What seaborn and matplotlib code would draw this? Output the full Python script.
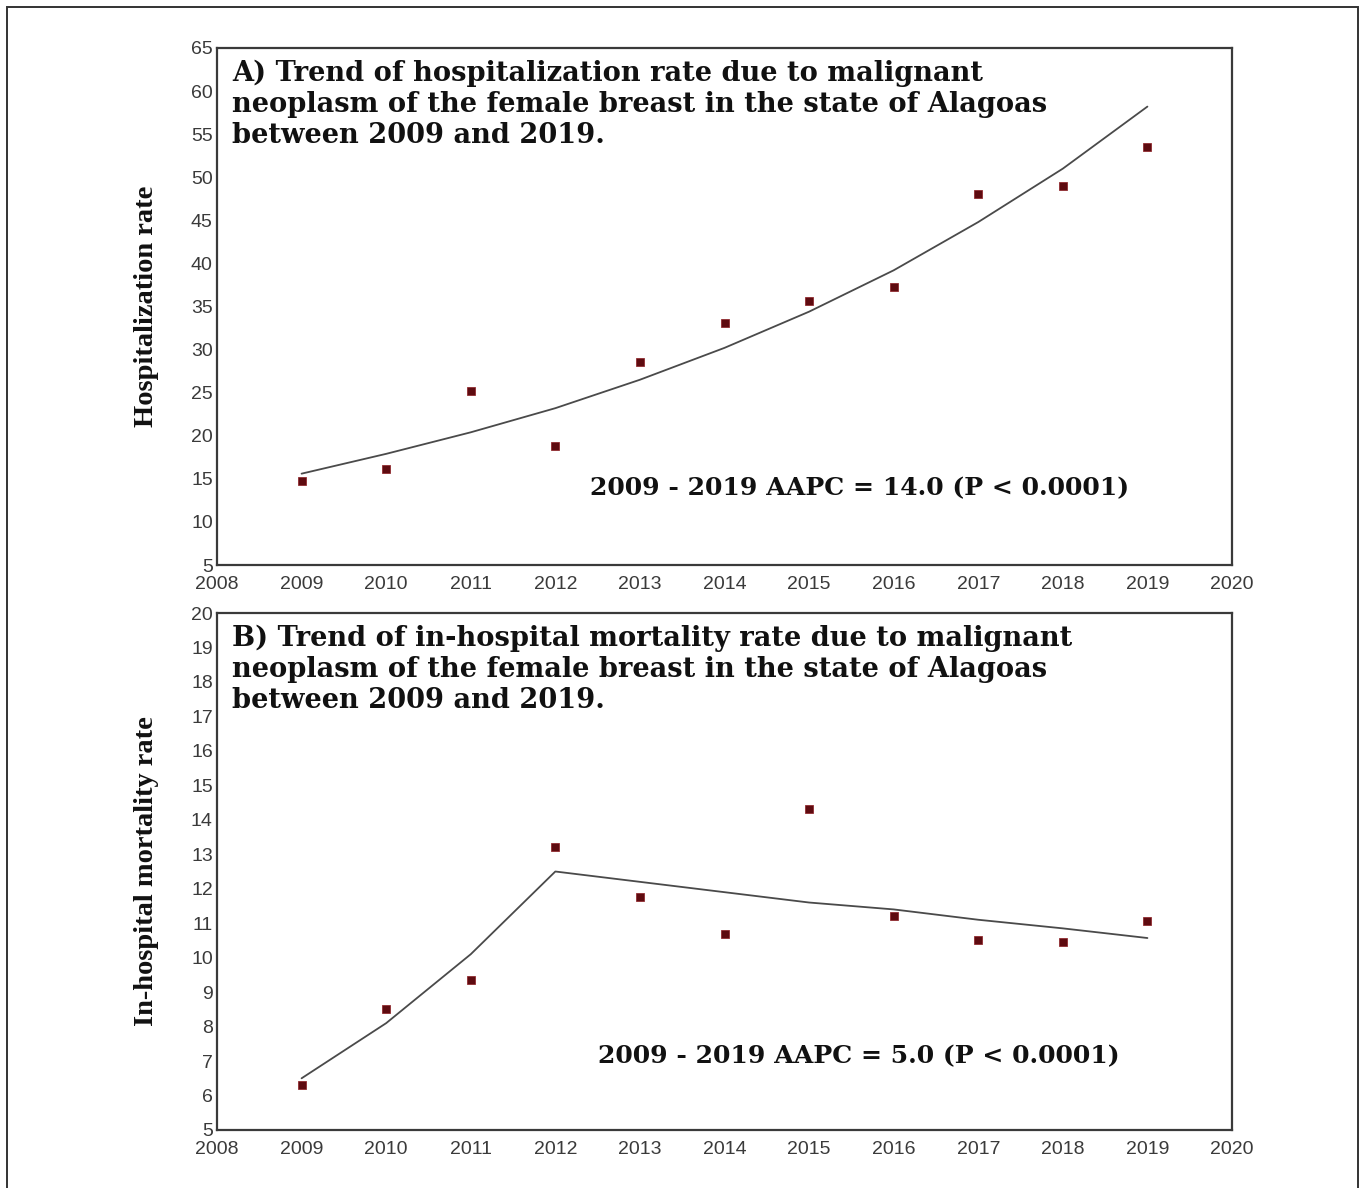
import matplotlib
matplotlib.use("Agg")
import matplotlib.pyplot as plt
import seaborn as sns
import pandas as pd
from matplotlib.patches import Rectangle

# Values
years = [2009, 2010, 2011, 2012, 2013, 2014, 2015, 2016, 2017, 2018, 2019]

hosp_rate = [14.8, 16.1, 25.2, 18.8, 28.6, 33.1, 35.6, 37.3, 48.1, 49.0, 53.5]
hosp_trend = [15.6, 17.9, 20.4, 23.2, 26.5, 30.2, 34.4, 39.2, 44.8, 51.0, 58.2]

mort_rate = [6.3, 8.5, 9.35, 13.2, 11.75, 10.7, 14.3, 11.2, 10.5, 10.45, 11.05]
mort_trend = [6.5, 8.1, 10.1, 12.5, 12.2, 11.9, 11.6, 11.4, 11.1, 10.85, 10.57]

x_ticks = list(range(2008, 2021))
hosp_yticks = list(range(5, 66, 5))
mort_yticks = list(range(5, 21))

title_a = ("A) Trend of hospitalization rate due to malignant\n"
           "neoplasm of the female breast in the state of Alagoas\n"
           "between 2009 and 2019.")
title_b = ("B) Trend of in-hospital mortality rate due to malignant\n"
           "neoplasm of the female breast in the state of Alagoas\n"
           "between 2009 and 2019.")
aapc_a = "2009 - 2019 AAPC = 14.0 (P < 0.0001)"
aapc_b = "2009 - 2019 AAPC = 5.0 (P < 0.0001)"

df_a = pd.DataFrame({"year": years, "rate": hosp_rate, "trend": hosp_trend})
df_b = pd.DataFrame({"year": years, "rate": mort_rate, "trend": mort_trend})

sns.set_theme(style="white")
plt.rcParams['font.family'] = ['Liberation Sans', 'DejaVu Sans']

fig = plt.figure(figsize=(13.7, 11.88), dpi=100)
W, H = 1370, 1188

# outer frame of the figure
fig.patches.append(Rectangle((7 / W, -0.05), (1358 - 7) / W, 1 - 7 / H + 0.05,
                             transform=fig.transFigure, fill=False,
                             edgecolor='#333333', linewidth=1.4))

ax1 = fig.add_axes([217 / W, 1 - 565 / H, (1232 - 217) / W, 517 / H])
ax2 = fig.add_axes([217 / W, 1 - 1130 / H, (1232 - 217) / W, 517 / H])

point_color = '#5e0b10'
line_color = '#4a4a4a'
label_serif = ['Liberation Serif', 'DejaVu Serif']
text_serif = ['DejaVu Serif']

panels = [
    (ax1, df_a, (5, 65), hosp_yticks, title_a, aapc_a, (0.3675, 0.149), 'Hospitalization rate'),
    (ax2, df_b, (5, 20), mort_yticks, title_b, aapc_b, (0.3754, 0.143), 'In-hospital mortality rate'),
]

for ax, df, ylim, yticks, title, aapc, aapc_pos, ylabel in panels:
    sns.lineplot(data=df, x='year', y='trend', ax=ax, color=line_color, linewidth=1.3)
    sns.scatterplot(data=df, x='year', y='rate', ax=ax, marker='s', s=32,
                    color=point_color, edgecolor='#8b1a1f', linewidth=0.5, zorder=3)

    ax.set_xlim(2008, 2020)
    ax.set_ylim(*ylim)
    ax.set_xticks(x_ticks)
    ax.set_yticks(yticks)
    ax.tick_params(axis='both', length=0, labelsize=14, labelcolor='#3a3a3a')
    ax.tick_params(axis='x', pad=8)
    ax.tick_params(axis='y', pad=3)

    for sp in ax.spines.values():
        sp.set_visible(True)
        sp.set_color('#3a3a3a')
        sp.set_linewidth(1.6)

    ax.set_xlabel('')
    ax.set_ylabel(ylabel, family=label_serif, fontweight='bold', fontsize=20.5,
                  color='#111111', labelpad=23)

    ax.text(0.0148, 0.978, title, transform=ax.transAxes, ha='left', va='top',
            family=text_serif, fontweight='bold', fontsize=19.6, color='#111111',
            linespacing=1.2)
    ax.text(aapc_pos[0], aapc_pos[1], aapc, transform=ax.transAxes, ha='left',
            va='center', family=text_serif, fontweight='bold', fontsize=18.1,
            color='#111111')

fig.savefig('out.png', dpi=100, facecolor='white')
